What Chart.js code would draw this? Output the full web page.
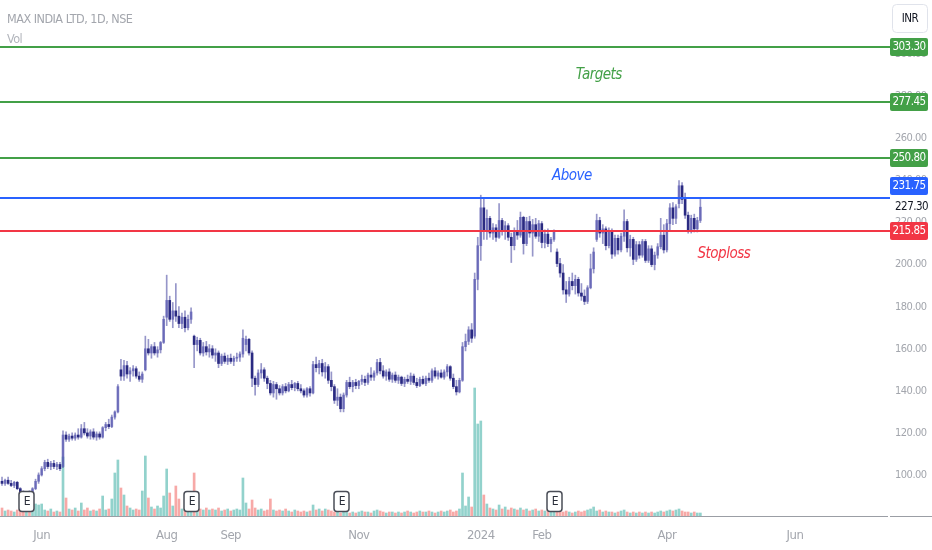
<!DOCTYPE html>
<html>
<head>
<meta charset="utf-8">
<script src="https://cdn.jsdelivr.net/npm/chart.js@4.4.1/dist/chart.umd.min.js"></script>
<style>
  html, body { margin: 0; padding: 0; background: #fff; }
  canvas { display: block; }
</style>
</head>
<body>
<canvas id="chart" width="932" height="550"></canvas>
<script>
// daily bars, MAX INDIA LTD (NSE) - [open, high, low, close]
const candles = [
  [97,99,95,96],[96,98,95,97.5],[97.5,99,95.5,96],[96,97.5,94.5,95],[95,97,94,96.5],[96.5,97,93,93.5],[93.5,94,90,91],[91,92.5,89,90],[90,92,88.5,91.5],[91.5,92.5,89,90],
  [90,94,89.5,93.5],[93.5,98,93,97],[97,101,96,100],[100,104,99.5,103],[103,107,102,106],[106,107.5,103,104],[104,106.5,102.5,105.5],[105.5,107,103,104],[104,106,102.5,105],[105,106,102,103],
  [104,121,103.5,119],[119,120.5,116,117],[117,119.5,116,118.5],[118.5,120,116.5,117.5],[117.5,120,116.5,119],[119,122,117,118],[118,124,117.5,122],[122,125,119,120],[120,122,117.5,118.5],[118.5,121.5,117,120.5],
  [120.5,122,117,118],[118,120.5,116.5,119.5],[119.5,120.5,117,118],[118,123,117.5,122.5],[122.5,125,121,124],[124,126.5,122,123],[123,128.5,122.5,127.5],[127.5,130.5,126.5,130],[130,143,129.5,142],[150,155,145,147],
  [147,154.5,145,152],[152,154,146,148],[148,151,144.5,149.5],[149.5,152,147,150.5],[150.5,151.5,146,147],[147,149,144.5,145.5],[145.5,149,144,148],[150,166,149.5,160],[160,164.5,157,158],[158,162,155.5,161],
  [161,163,157,158],[158,161,156,159.5],[159.5,163.5,158,163],[163,175.5,162.5,174],[175,195,171,183],[183,185,173,174],[174,182,170,178],[178,191,173,175.5],[175.5,180,170,172],[172,177,169.5,175],
  [175,178,168,170],[170,176,169,174],[174,179.5,172,177.5],[166,166.5,151,162],[162,165.5,159,164],[164,165,157,158],[158,163,156.5,161],[161,163.5,157,158.5],[158.5,162,156,160],[160,161.5,155.5,157],
  [157,160,154,158],[158,159,151,153],[153,157.5,152,156.5],[156.5,158,153,154],[154,157,152.5,155.5],[155.5,157.5,153,154],[154,156.5,152,155.5],[155.5,158,154,156],[156,158.5,154,157.5],[157.5,169,156,165],
  [162,166,159,164.5],[164.5,165,157,158],[158,159,142,146],[146,147,138,143],[143,150,142,148.5],[148.5,153,146,150],[150,151,144.5,146],[146,147,141,143.5],[143.5,145,138,139],[139,144.5,137,143],
  [143,144,136,141],[141,142.5,138,139],[139,143,138,142],[142,143.5,139,140],[140,144,139.5,143],[143,145,140.5,141.5],[141.5,144,140,143.5],[143.5,144.5,140,141],[141,143,139,140],[140,141,137,138],
  [138,141.5,137,141],[141,142,137.5,139],[139,154,138.5,152.5],[152.5,156,149,151],[151,154.5,148,153],[153,155,147,149],[149,153.5,146,151.5],[151.5,152.5,143.5,145],[145,149,140,142],[142,143,134,135.5],
  [135.5,141,133,137],[137,138.5,130,131.5],[131.5,139,130,138],[138,145,137,144],[144,146.5,141,142],[142,145,139.5,144],[144,145.5,141,142.5],[142.5,145,141,144.5],[144.5,147.5,143,145.5],[145.5,147,142.5,144],
  [144,148.5,143,147.5],[147.5,151,145,146.5],[146.5,149.5,145,148.5],[148.5,155,147.5,153.5],[153.5,155.5,148,149.5],[149.5,152,146,147],[147,150,145,149],[149,150.5,144.5,145.5],[145.5,148.5,144,147.5],[147.5,149,144,145],
  [145,147.5,143.5,146.5],[146.5,147,142.5,143.5],[143.5,146.5,142,145.5],[145.5,147.5,143.5,144.5],[144.5,148.5,143,147],[147,148,143,144],[144,146,141.5,142.5],[142.5,146.5,142,145.5],[145.5,147,143,143.5],[143.5,147,142.5,146],
  [146,148.5,144,145],[145,150.5,144,149.5],[149.5,151,146,147],[147,149.5,145.5,148.5],[148.5,150,146,146.5],[146.5,150,145.5,149],[149,152.5,147,151.5],[151.5,152,145,146],[146,148,141,142],[142,145,138,139.5],
  [139.5,146,139,145],[145,163,144.5,161],[161,167,159,163.5],[163.5,170.5,162,169],[169,172,163,165],[166,196,165,193],[193,213,188,209],[209,233,202,227],[227,231.5,212,216],[216,226,212,222],
  [222,223,213,215],[215,219.5,212,217.5],[217.5,219,211,213],[213,229,212.5,221],[221,222,214,216],[216,220.5,212,218.5],[218.5,219.5,211.5,213],[213,215,201,209],[209,217.5,207,216],[216,221,212,214],
  [214,225,213,222.5],[222.5,223,205,210],[210,222.5,209,220.5],[220.5,223,213,215],[215,221.5,204,219],[219,222,212.5,213.5],[213.5,221,211,219.5],[219.5,220.5,208,210.5],[210.5,216.5,208,214.5],[214.5,217,208.5,210],
  [210,213,206,212],[212,216.5,211,215.5],[206,207.5,199,200.5],[200.5,203,194,196],[196,200,186,188],[188,192,182,186],[186,194,185,192],[192,196,188,190],[190,195,186,193],[193,194,185,186.5],
  [186.5,191,183,185],[185,188,181,182.5],[182.5,190,181.5,189],[189,205,188.5,198],[198,208,196,206],[212,224,211,221],[221,222.5,213,215],[215,219,210,217],[217,218,207,209],[209,217.5,208,216],
  [216,217,203,205],[205,214,204,212.5],[212.5,214,205,207],[207,215,206,213.5],[213.5,226,211,220.5],[220.5,221.5,206,208],[208,214,204,212],[212,213,200,202.5],[202.5,211,201.5,209.5],[209.5,211,203,204.5],
  [204.5,212,203.5,211],[211,212,201,202],[202,209,201,207.5],[207.5,209,199,200],[200,206,197.5,204.5],[204.5,210,203,208.5],[208.5,222,207.5,214],[214,219,205.5,207],[207,221.5,206,219.5],[219.5,229,216,227],
  [227,229.5,219,222],[222,228.5,219.5,227.5],[229,240,227,237.5],[237.5,239,229,231],[231,234,222,223.5],[223.5,225,215,216.5],[216.5,223.5,215,222],[222,224,215.5,217],[217,222.5,215.5,221],[221,231,220,227.3]
];

// volume per bar (relative units)
const volume = [
  8,5,6,5,4,6,5,4,5,4,
  7,12,11,12,6,5,7,4,5,4,
  59,18,7,6,8,5,13,6,8,5,
  6,5,7,20,6,7,17,43,56,28,
  21,10,8,6,7,6,25,60,18,9,
  7,10,8,20,47,23,10,30,17,7,
  6,8,7,43,9,7,6,8,6,7,
  6,8,5,6,7,5,6,7,6,38,
  13,7,16,8,6,7,5,6,17,6,
  5,6,5,7,5,4,6,5,4,5,
  4,5,11,6,7,5,7,6,5,4,
  4,3,5,4,3,4,3,4,5,4,
  4,3,5,6,5,4,3,4,4,3,
  4,3,4,5,4,3,4,5,4,4,
  5,4,3,4,5,4,5,6,4,5,
  7,43,10,19,9,128,92,95,21,12,
  8,7,6,11,7,9,6,8,7,6,
  8,6,7,5,6,7,5,6,5,6,
  4,5,6,5,4,5,4,3,4,5,
  4,5,6,7,9,5,6,4,5,4,
  4,3,4,5,6,4,3,4,3,4,
  3,4,3,4,3,4,5,4,5,6,
  5,6,7,5,4,4,3,4,3,3
];

const monthTicks = [13, 54, 75, 117, 157, 177, 218, 260];
const monthLabels = ['Jun', 'Aug', 'Sep', 'Nov', '2024', 'Feb', 'Apr', 'Jun'];
const priceTicks = [100, 120, 140, 160, 180, 200, 220, 240, 260, 280, 300];

const levels = [303.30, 277.45, 250.80, 231.75, 215.85];
const levelColors = ['#43a047', '#43a047', '#43a047', '#2962ff', '#f23645'];
const earnings = [8, 62, 111, 181];

const FONT = '"Liberation Sans Narrow", "DejaVu Sans Condensed", "Liberation Sans", sans-serif';
Chart.defaults.font.family = FONT;
Chart.defaults.font.size = 12;
Chart.defaults.color = '#a3a6ad';

const isUp = c => c[3] >= c[0];

function roundRect(ctx, x, y, w, h, r) {
  ctx.beginPath();
  ctx.moveTo(x + r, y);
  ctx.lineTo(x + w - r, y);
  ctx.quadraticCurveTo(x + w, y, x + w, y + r);
  ctx.lineTo(x + w, y + h - r);
  ctx.quadraticCurveTo(x + w, y + h, x + w - r, y + h);
  ctx.lineTo(x + r, y + h);
  ctx.quadraticCurveTo(x, y + h, x, y + h - r);
  ctx.lineTo(x, y + r);
  ctx.quadraticCurveTo(x, y, x + r, y);
  ctx.closePath();
}

const noPad = s => { s.paddingTop = 0; s.paddingBottom = 0; s.paddingLeft = 0; s.paddingRight = 0; };

const overlay = {
  id: 'overlay',
  beforeDraw(chart) {
    // tighter glyph spacing, closer to the narrow terminal font
    chart.ctx.letterSpacing = '-0.5px';
  },
  afterDatasetsDraw(chart) {
    const { ctx, scales: { x, y } } = chart;
    ctx.save();

    // horizontal levels
    levels.forEach((v, k) => {
      const py = Math.round(y.getPixelForValue(v));
      ctx.strokeStyle = levelColors[k];
      ctx.lineWidth = 2;
      ctx.beginPath();
      ctx.moveTo(0, py);
      ctx.lineTo(890, py);
      ctx.stroke();
    });

    // drawing notes
    ctx.font = 'italic 15px ' + FONT;
    ctx.textAlign = 'center';
    ctx.textBaseline = 'middle';
    ctx.fillStyle = '#43a047';
    ctx.fillText('Targets', x.getPixelForValue(195.7), y.getPixelForValue(290.1));
    ctx.fillStyle = '#2962ff';
    ctx.fillText('Above', x.getPixelForValue(186.9), y.getPixelForValue(241.9));
    ctx.fillStyle = '#f23645';
    ctx.fillText('Stoploss', x.getPixelForValue(236.7), y.getPixelForValue(204.8));

    // earnings markers
    earnings.forEach(i => {
      const px = Math.round(x.getPixelForValue(i));
      roundRect(ctx, px - 7, 491.5, 15, 20, 3);
      ctx.fillStyle = '#ffffff';
      ctx.fill();
      ctx.strokeStyle = '#4a4d57';
      ctx.lineWidth = 1.5;
      ctx.stroke();
      ctx.fillStyle = '#2a2e39';
      ctx.font = '12px ' + FONT;
      ctx.textAlign = 'center';
      ctx.textBaseline = 'middle';
      ctx.fillText('E', px + 0.8, 502);
    });
    ctx.restore();
  },
  afterDraw(chart) {
    const { ctx, scales: { y } } = chart;
    ctx.save();

    // bottom axis line continues under the price scale
    ctx.strokeStyle = '#9b9ea5';
    ctx.lineWidth = 1;
    ctx.beginPath();
    ctx.moveTo(890, 516.5);
    ctx.lineTo(932, 516.5);
    ctx.stroke();

    const last = candles[candles.length - 1][3];
    const lastY = Math.round(y.getPixelForValue(last));

    // level tags, pushed up when they would cover the last price
    ctx.font = '11.5px ' + FONT;
    ctx.textAlign = 'center';
    ctx.textBaseline = 'middle';
    levels.forEach((v, k) => {
      let py = Math.round(y.getPixelForValue(v));
      if (py < lastY && lastY - py < 20) py = lastY - 21;
      roundRect(ctx, 890, py - 9, 38, 18, 2);
      ctx.fillStyle = levelColors[k];
      ctx.fill();
      ctx.fillStyle = '#ffffff';
      ctx.fillText(v.toFixed(2), 909, py + 0.5);
    });

    // last price
    ctx.fillStyle = '#131722';
    ctx.textAlign = 'left';
    ctx.fillText(last.toFixed(2), 895, lastY + 0.5);

    // currency box
    roundRect(ctx, 892.5, 4.5, 35, 28, 4);
    ctx.fillStyle = '#ffffff';
    ctx.fill();
    ctx.strokeStyle = '#e0e3eb';
    ctx.lineWidth = 1;
    ctx.stroke();
    ctx.fillStyle = '#131722';
    ctx.textAlign = 'center';
    ctx.fillText('INR', 910, 19);

    // legend text
    ctx.textAlign = 'left';
    ctx.fillStyle = '#a3a6ad';
    ctx.font = '12.5px ' + FONT;
    ctx.fillText('MAX INDIA LTD, 1D, NSE', 7, 20);
    ctx.fillStyle = '#b2b5bc';
    ctx.fillText('Vol', 7, 40);
    ctx.restore();
  }
};

const wickData = candles.map((c, i) => ({ x: i, y: [c[2], c[1]] }));
const bodyData = candles.map((c, i) => {
  const lo = Math.min(c[0], c[3]);
  const hi = Math.max(c[0], c[3]);
  return { x: i, y: [lo, hi - lo < 0.5 ? lo + 0.5 : hi] };
});
const volData = volume.map((v, i) => ({ x: i, y: v }));

new Chart(document.getElementById('chart'), {
  type: 'bar',
  data: {
    datasets: [
      {
        label: 'Body',
        data: bodyData,
        order: 0,
        barThickness: 2,
        grouped: false,
        backgroundColor: candles.map(c => isUp(c) ? 'rgba(88,88,178,0.7)' : '#2a2a82'),
        yAxisID: 'y'
      },
      {
        label: 'Wick',
        data: wickData,
        order: 1,
        barThickness: 1,
        grouped: false,
        backgroundColor: 'rgba(80,80,165,0.6)',
        yAxisID: 'y'
      },
      {
        label: 'Vol',
        data: volData,
        order: 2,
        barThickness: 2,
        grouped: false,
        backgroundColor: candles.map(c => isUp(c) ? 'rgba(38,166,154,0.5)' : 'rgba(239,83,80,0.5)'),
        yAxisID: 'yv'
      }
    ]
  },
  options: {
    responsive: false,
    animation: false,
    devicePixelRatio: 1,
    layout: { padding: 0 },
    plugins: { legend: { display: false }, tooltip: { enabled: false } },
    scales: {
      x: {
        type: 'linear',
        offset: false,
        min: -0.66,
        max: 290.2,
        grid: { display: false, drawTicks: false },
        border: { display: true, color: '#9b9ea5', width: 1 },
        afterBuildTicks: s => { s.ticks = monthTicks.map(v => ({ value: v })); },
        afterFit: s => { s.height = 34; noPad(s); },
        ticks: {
          autoSkip: false,
          maxRotation: 0,
          padding: 12,
          color: '#a3a6ad',
          font: { size: 13 },
          callback: (v, i) => monthLabels[i]
        }
      },
      y: {
        type: 'linear',
        position: 'right',
        min: 80.5,
        max: 325.8,
        grid: { display: false, drawTicks: false },
        border: { display: false },
        afterBuildTicks: s => { s.ticks = priceTicks.map(v => ({ value: v })); },
        afterFit: s => { s.width = 45; noPad(s); },
        ticks: {
          padding: 8,
          color: '#a3a6ad',
          font: { size: 11 },
          callback: v => Number(v).toFixed(2)
        }
      },
      yv: {
        type: 'linear',
        display: false,
        min: 0,
        max: 516
      }
    }
  },
  plugins: [overlay]
});
</script>
</body>
</html>
